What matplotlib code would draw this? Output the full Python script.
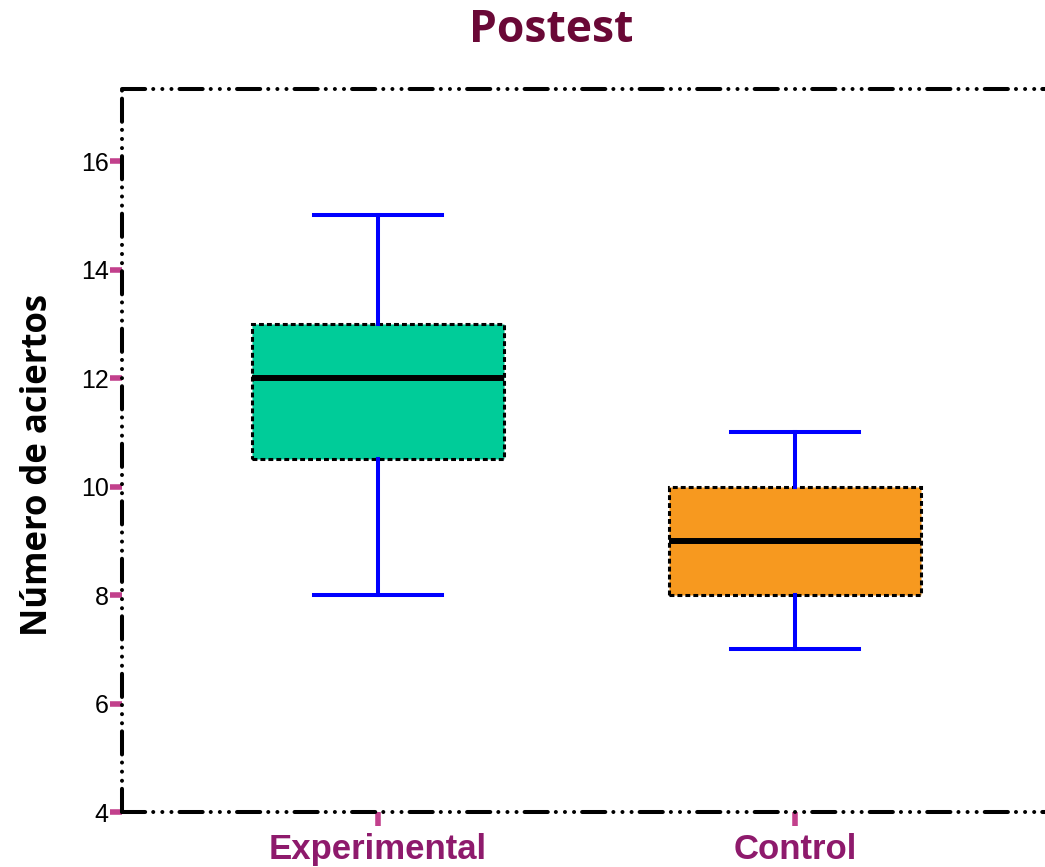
import matplotlib.pyplot as plt

groups = ['Experimental', 'Control']
whislo = [8, 7]
q1 = [10.5, 8]
med = [12, 9]
q3 = [13, 10]
whishi = [15, 11]
fills = ['#00CC99', '#F7991F']
yticks = [4, 6, 8, 10, 12, 14, 16]

tickColor = '#C2408C'
labelColor = '#8E1A6C'
titleColor = '#6A0836'

fig = plt.figure(figsize=(10.45, 8.67), dpi=100)
ax = fig.add_axes([122 / 1045, 55 / 867, 1 - 122 / 1045, 723 / 867])

stats = []
for i in range(len(groups)):
    stats.append(dict(label=groups[i], whislo=whislo[i], q1=q1[i], med=med[i],
                      q3=q3[i], whishi=whishi[i], fliers=[]))

bp = ax.bxp(stats, positions=range(len(groups)), widths=0.604, patch_artist=True,
            showfliers=False, capwidths=0.307,
            boxprops=dict(edgecolor='black', linewidth=2.2, linestyle=(0, (1.6, 1.0))),
            whiskerprops=dict(color='#0000FF', linewidth=2.9),
            capprops=dict(color='#0000FF', linewidth=2.9),
            medianprops=dict(color='black', linewidth=4.3))
for box, c in zip(bp['boxes'], fills):
    box.set_facecolor(c)

ax.set_xlim(-0.614, 1.6)
ax.set_ylim(4, 17.33)
ax.set_yticks(yticks)
ax.set_xticks(range(len(groups)))
ax.set_xticklabels(groups)

# dash-dot-dot-dot frame, round caps so the dots come out round
frameStyle = (0, (5.75, 2, 0.01, 2.25, 0.01, 2.25, 0.01, 2))
for side in ['top', 'bottom', 'left']:
    sp = ax.spines[side]
    sp.set_linewidth(2.9)
    sp.set_linestyle(frameStyle)
    sp.set_capstyle('round')
    sp.set_color('black')
ax.spines['right'].set_visible(False)

ax.tick_params(axis='y', colors=tickColor, length=8.5, width=4, pad=1,
               labelsize=18, labelcolor='black')
ax.tick_params(axis='x', colors=tickColor, length=10, width=4, pad=5,
               labelsize=25, labelcolor=labelColor)
for lab in ax.get_yticklabels():
    lab.set_family('Liberation Sans')
for lab in ax.get_xticklabels():
    lab.set_family('Liberation Sans')
    lab.set_fontweight('bold')

ax.set_ylabel('Número de aciertos', fontsize=25, fontweight='bold',
              family='Open Sans', labelpad=18)
ax.yaxis.label.set_y(0.48)
fig.text(0.527, 0.965, 'Postest', ha='center', va='center', fontsize=32,
         fontweight='bold', family='Open Sans', color=titleColor)

fig.savefig('out.png', dpi=100)
